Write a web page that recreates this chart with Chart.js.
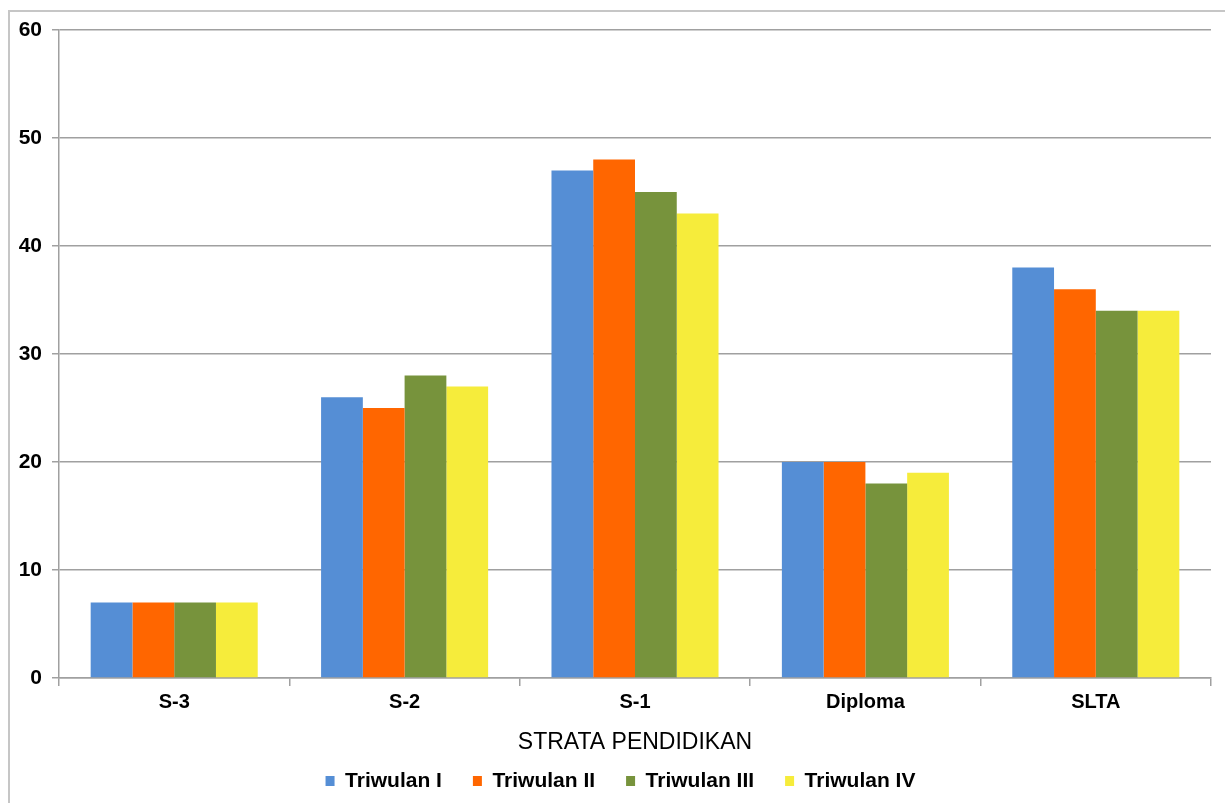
<!DOCTYPE html>
<html>
<head>
<meta charset="utf-8">
<script src="https://cdn.jsdelivr.net/npm/chart.js@4"></script>
<style>
  html, body { margin: 0; padding: 0; background: #fff; overflow: hidden; }
  #frame { position: absolute; left: 8px; top: 10px; width: 1400px; height: 1000px; border: 2px solid #c6c6c6; }
  #chart { position: absolute; left: 0; top: 0; }
</style>
</head>
<body>
<div id="frame"></div>
<canvas id="chart" width="1225" height="803"></canvas>
<script>
// data
const kategori = ["S-3", "S-2", "S-1", "Diploma", "SLTA"];
const triwulan1 = [7, 26, 47, 20, 38];
const triwulan2 = [7, 25, 48, 20, 36];
const triwulan3 = [7, 28, 45, 18, 34];
const triwulan4 = [7, 27, 43, 19, 34];
const namaSeri = ["Triwulan I", "Triwulan II", "Triwulan III", "Triwulan IV"];
const warna = ["#558ED5", "#FF6600", "#77933C", "#F6EC3B"];
const yMin = 0, yMax = 60, yStep = 10;

Chart.defaults.font.family = "'Liberation Sans', Arial, sans-serif";
Chart.defaults.color = "#000";

const garis = "#a0a0a0";
const seri = [triwulan1, triwulan2, triwulan3, triwulan4];

// legenda di gambar asli sedikit ke kanan dari tengah kanvas
const geserLegenda = {
  id: "geserLegenda",
  afterLayout(chart) { chart.legend.left += 30; }
};

new Chart(document.getElementById("chart"), {
  type: "bar",
  data: {
    labels: kategori,
    datasets: seri.map((d, i) => ({
      label: namaSeri[i],
      data: d,
      backgroundColor: warna[i],
      borderWidth: 0,
      categoryPercentage: 0.725,
      barPercentage: 1
    }))
  },
  options: {
    responsive: false,
    animation: false,
    layout: { padding: { top: 30, right: 14, left: 0, bottom: 1.5 } },
    plugins: {
      tooltip: { enabled: false },
      legend: {
        position: "bottom",
        labels: {
          boxWidth: 9,
          boxHeight: 10,
          padding: 31,
          font: { size: 21, weight: "bold" }
        }
      }
    },
    scales: {
      x: {
        grid: { drawOnChartArea: false, drawTicks: true, tickLength: 8, color: garis, lineWidth: 1.5 },
        border: { color: garis, width: 1.5 },
        ticks: { padding: 4, font: { size: 20, weight: "bold" } },
        title: {
          display: true,
          text: "STRATA PENDIDIKAN",
          font: { size: 23 },
          padding: { top: 0, bottom: -17 }
        },
        afterFit: s => { s.height = 61.5; }
      },
      y: {
        min: yMin,
        max: yMax,
        grid: { color: garis, lineWidth: 1.5, tickLength: 7 },
        border: { color: garis, width: 1.5 },
        ticks: { stepSize: yStep, padding: 10, font: { size: 21, weight: "bold" } },
        afterFit: s => { s.width = 59; }
      }
    }
  },
  plugins: [geserLegenda]
});
</script>
</body>
</html>
